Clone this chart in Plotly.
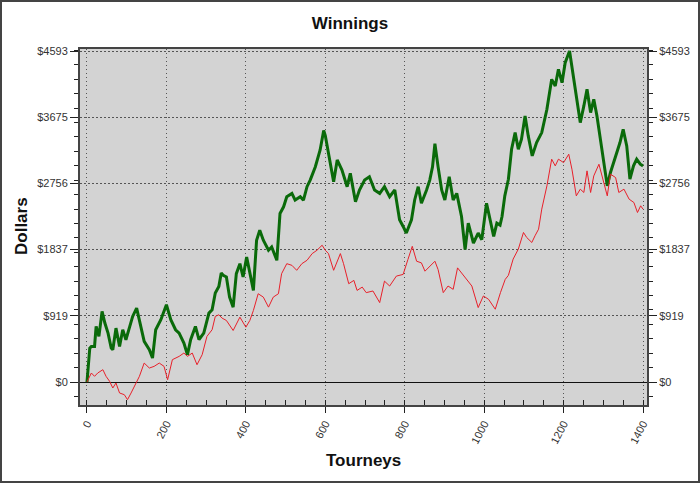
import plotly.graph_objects as go

# Values (tourney number, cumulative dollars)
green_tourney = [0, 7, 11, 19, 23, 30, 38, 45, 53, 61, 65, 73, 82, 90, 98, 107, 115, 125, 132, 144,
                 157, 165, 173, 186, 200, 211, 223, 232, 244, 253, 261, 273, 282, 294, 307, 315, 323,
                 332, 338, 343, 351, 359, 368, 376, 385, 393, 402, 410, 419, 427, 435, 444, 457, 465,
                 478, 486, 495, 503, 516, 524, 537, 545, 554, 562, 575, 587, 596, 600, 613, 621, 630,
                 642, 655, 663, 676, 686, 699, 711, 724, 737, 749, 762, 775, 787, 796, 804, 817, 825,
                 834, 842, 855, 863, 870, 876, 884, 893, 901, 912, 922, 931, 943, 952, 960, 973, 985,
                 994, 1006, 1015, 1024, 1032, 1040, 1045, 1052, 1061, 1069, 1078, 1086, 1094, 1103,
                 1111, 1121, 1132, 1145, 1158, 1170, 1179, 1187, 1196, 1204, 1215, 1224, 1234, 1242,
                 1251, 1259, 1268, 1276, 1284, 1293, 1301, 1310, 1318, 1331, 1342, 1350, 1359, 1367,
                 1376, 1384, 1393, 1400]
green_dollars = [0, 470, 494, 494, 771, 633, 979, 818, 679, 471, 448, 748, 494, 725, 587, 748, 910,
                 1026, 864, 564, 448, 333, 725, 864, 1072, 864, 725, 679, 541, 379, 587, 771, 587, 679,
                 956, 1003, 1234, 1326, 1511, 1480, 1457, 1178, 1039, 1503, 1642, 1457, 1735, 1503,
                 1271, 1967, 2106, 1967, 1828, 1874, 1689, 2338, 2431, 2570, 2617, 2524, 2570, 2524,
                 2710, 2802, 2988, 3220, 3490, 3420, 2988, 2779, 3081, 2942, 2710, 2895, 2501, 2664,
                 2802, 2848, 2664, 2618, 2710, 2572, 2664, 2251, 2159, 2067, 2251, 2526, 2710, 2480,
                 2664, 2802, 2986, 3307, 2986, 2664, 2526, 2848, 2526, 2618, 2297, 1837, 2205, 1929,
                 2067, 1975, 2480, 2251, 2021, 2205, 2178, 2297, 2583, 2814, 3230, 3461, 3230, 3369,
                 3692, 3415, 3138, 3323, 3461, 3785, 4200, 4108, 4339, 4154, 4431, 4593, 4247, 3877,
                 3600, 3831, 4062, 3738, 3923, 3692, 3369, 3045, 2722, 2907, 3138, 3323, 3507, 3276,
                 2814, 2999, 3092, 3022, 2999]

red_tourney = [0, 11, 19, 27, 40, 48, 57, 65, 73, 82, 94, 102, 111, 119, 132, 144, 157, 169, 182,
               194, 203, 215, 232, 244, 253, 265, 277, 290, 302, 315, 323, 332, 340, 351, 368, 385,
               400, 410, 419, 431, 444, 457, 469, 482, 490, 503, 516, 528, 541, 554, 567, 579, 592,
               600, 608, 621, 630, 638, 646, 659, 672, 680, 693, 703, 720, 737, 749, 762, 779, 796,
               808, 819, 830, 842, 851, 863, 876, 884, 897, 909, 922, 933, 943, 956, 969, 985, 998,
               1011, 1028, 1041, 1053, 1061, 1073, 1086, 1099, 1107, 1120, 1128, 1137, 1145, 1158,
               1170, 1179, 1187, 1200, 1213, 1221, 1232, 1242, 1251, 1259, 1268, 1276, 1289, 1297,
               1310, 1318, 1331, 1339, 1352, 1365, 1377, 1386, 1394, 1400]
red_dollars = [0, 125, 79, 125, 171, 79, 9, -83, -14, -152, -176, -245, -152, -60, 79, 263, 194, 217,
               263, 217, 32, 310, 356, 402, 356, 402, 240, 379, 633, 725, 910, 933, 887, 854, 715,
               900, 761, 854, 993, 1225, 1178, 1039, 1178, 1225, 1503, 1642, 1619, 1550, 1642, 1689,
               1782, 1828, 1898, 1828, 1782, 1550, 1666, 1782, 1642, 1364, 1410, 1271, 1317, 1240,
               1263, 1102, 1400, 1332, 1470, 1493, 1699, 1883, 1676, 1653, 1538, 1607, 1676, 1561,
               1240, 1332, 1286, 1584, 1515, 1424, 1332, 1033, 1194, 1148, 1010, 1240, 1424, 1480,
               1706, 1844, 2075, 2006, 1936, 2029, 2121, 2399, 2722, 3092, 2999, 3092, 3045, 3161,
               2953, 2583, 2676, 2630, 2930, 2630, 2860, 3022, 2860, 2583, 2884, 2837, 2630, 2676,
               2537, 2491, 2352, 2445, 2399]

y_tick_values = [0, 918.6, 1837.2, 2755.8, 3674.4, 4593]
y_tick_labels = ["$0", "$919", "$1837", "$2756", "$3675", "$4593"]
x_tick_values = [0, 200, 400, 600, 800, 1000, 1200, 1400]

y_range = [-319, 4621]
x_range = [-17.6, 1410]

fig = go.Figure()
fig.add_trace(go.Scatter(x=green_tourney, y=green_dollars, mode="lines",
                         line=dict(color="#0a6a0a", width=3), yaxis="y"))
fig.add_trace(go.Scatter(x=red_tourney, y=red_dollars, mode="lines",
                         line=dict(color="#e8202a", width=1), yaxis="y2"))

axis_font = dict(family="Liberation Sans, Arial, sans-serif", size=11, color="#333333")
title_font = dict(family="Liberation Sans, Arial, sans-serif", size=17, color="#111111")

y_common = dict(
    range=y_range,
    tickmode="array",
    tickvals=y_tick_values,
    ticktext=y_tick_labels,
    tickfont=axis_font,
    ticks="outside",
    ticklen=8,
    tickcolor="#222222",
    minor=dict(tickmode="linear", tick0=0, dtick=200, ticks="outside", ticklen=4,
               tickcolor="#222222", showgrid=False),
    showline=True,
    linecolor="#444444",
    linewidth=2,
    fixedrange=True,
)

fig.update_layout(
    width=700,
    height=483,
    margin=dict(l=80, r=53, t=49, b=78, autoexpand=False),
    paper_bgcolor="white",
    plot_bgcolor="#d3d3d3",
    showlegend=False,
    title=dict(text="<b>Winnings</b>", x=0.5, xanchor="center", y=0.952, yanchor="middle",
               font=title_font),
    xaxis=dict(
        range=x_range,
        tickmode="array",
        tickvals=x_tick_values,
        tickangle=-62,
        tickfont=axis_font,
        ticks="outside",
        ticklen=6,
        tickcolor="#222222",
        minor=dict(tickmode="linear", tick0=0, dtick=50, ticks="inside", ticklen=5,
                   tickcolor="#222222", showgrid=False),
        showgrid=True,
        gridcolor="#555555",
        griddash="1px,3px",
        gridwidth=1,
        zeroline=False,
        showline=True,
        linecolor="#444444",
        linewidth=2,
        mirror=True,
        fixedrange=True,
    ),
    yaxis=dict(
        **y_common,
        side="left",
        showgrid=True,
        gridcolor="#555555",
        griddash="2px,2px",
        gridwidth=1,
        zeroline=True,
        zerolinecolor="#111111",
        zerolinewidth=1,
    ),
    yaxis2=dict(
        **y_common,
        side="right",
        overlaying="y",
        showgrid=False,
        zeroline=False,
    ),
    annotations=[
        dict(text="<b>Dollars</b>", xref="paper", yref="paper",
             x=(21 - 80) / 567, y=(405 - 226) / 356, xanchor="center", yanchor="middle",
             textangle=-90, showarrow=False, font=title_font),
        dict(text="<b>Tourneys</b>", xref="paper", yref="paper",
             x=(363 - 80) / 567, y=(405 - 460) / 356, xanchor="center", yanchor="middle",
             showarrow=False, font=title_font),
    ],
    shapes=[
        dict(type="rect", xref="paper", yref="paper",
             x0=(1 - 80) / 567, x1=(699 - 80) / 567,
             y0=(405 - 482) / 356, y1=(405 - 1) / 356,
             line=dict(color="#444444", width=2), fillcolor="rgba(0,0,0,0)", layer="above"),
    ],
)

# the page body has a default 8px margin; drop it so the figure sits at the window corner
fig.write_html("out.html", config={"displayModeBar": False},
               post_script="document.body.style.margin='0';")
